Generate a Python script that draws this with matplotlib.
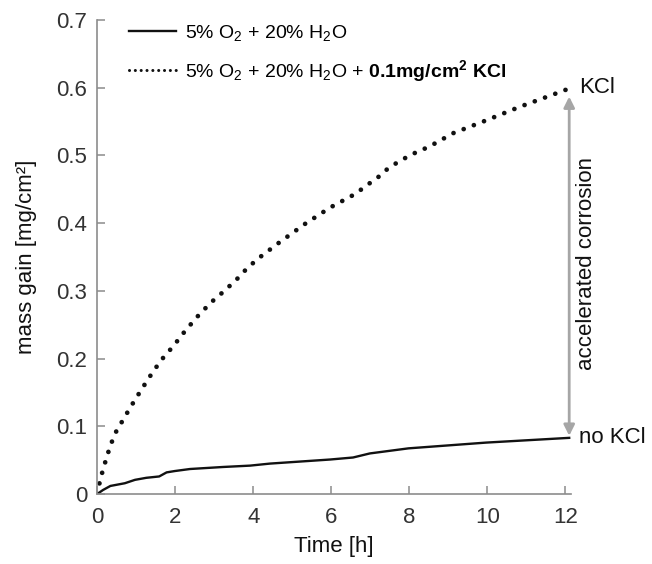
import matplotlib
matplotlib.use('Agg')
import matplotlib.pyplot as plt

plt.rcParams['font.family'] = ['Liberation Sans', 'DejaVu Sans']
plt.rcParams['mathtext.fontset'] = 'custom'
plt.rcParams['mathtext.rm'] = 'Liberation Sans'
plt.rcParams['mathtext.it'] = 'Liberation Sans:italic'
plt.rcParams['mathtext.bf'] = 'Liberation Sans:bold'

# mass gain without KCl (solid)
t_nokcl = [0, 0.15, 0.34, 0.71, 0.97, 1.26, 1.59, 1.78, 1.99, 2.38, 3.23, 3.92,
           4.43, 5.97, 6.56, 6.99, 7.98, 9.97, 12.1]
m_nokcl = [0, 0.006, 0.012, 0.016, 0.021, 0.024, 0.026, 0.032, 0.034, 0.037,
           0.040, 0.042, 0.045, 0.051, 0.054, 0.060, 0.0675, 0.076, 0.083]

# mass gain with 0.1 mg/cm2 KCl (dotted)
t_kcl = [0, 0.085, 0.18, 0.34, 0.50, 0.67, 0.83, 0.99, 1.32, 1.63, 1.96, 2.27,
         2.60, 2.92, 3.24, 3.56, 3.87, 4.20, 4.68, 5.33, 5.97, 6.61, 7.08, 7.25,
         7.42, 7.59, 8.04, 8.51, 9.13, 9.98, 10.84, 11.69, 12.06]
m_kcl = [0, 0.0226, 0.042, 0.072, 0.094, 0.110, 0.126, 0.141, 0.171, 0.197,
         0.219, 0.242, 0.264, 0.283, 0.299, 0.316, 0.335, 0.351, 0.372, 0.399,
         0.423, 0.443, 0.463, 0.470, 0.479, 0.486, 0.501, 0.513, 0.533, 0.552,
         0.572, 0.590, 0.598]

x_ticks = [0, 2, 4, 6, 8, 10, 12]
y_ticks = [0, 0.1, 0.2, 0.3, 0.4, 0.5, 0.6, 0.7]
y_ticklabels = ['0', '0.1', '0.2', '0.3', '0.4', '0.5', '0.6', '0.7']

fig = plt.figure(figsize=(6.52, 5.64), dpi=100)
ax = fig.add_axes([0.149, 0.124, 0.727, 0.8405])

ax.plot(t_nokcl, m_nokcl, color='#111111', lw=1.7,
        label='5% O$_2$ + 20% H$_2$O')
ax.plot(t_kcl, m_kcl, color='#111111', lw=3.4, linestyle=(0, (0.01, 2.3)),
        dash_capstyle='round',
        label='5% O$_2$ + 20% H$_2$O + $\\mathbf{0.1mg/cm^2\\ KCl}$')

# double arrow between the two curves at 12 h
ax.annotate('', xy=(12.1, 0.587), xytext=(12.1, 0.086),
            arrowprops=dict(arrowstyle='<|-|>', color='#a6a6a6', lw=2,
                            mutation_scale=16, shrinkA=0, shrinkB=0))
ax.text(12.35, 0.600, 'KCl', fontsize=16, ha='left', va='center', color='#111111')
ax.text(12.35, 0.084, 'no KCl', fontsize=16, ha='left', va='center', color='#111111')
ax.text(12.28, 0.34, 'accelerated corrosion', fontsize=16, rotation=90,
        ha='left', va='center', color='#111111')

ax.set_xlim(0, 12.15)
ax.set_ylim(0, 0.7)
ax.set_xticks(x_ticks)
ax.set_yticks(y_ticks)
ax.set_yticklabels(y_ticklabels)
for s in ['top', 'right']:
    ax.spines[s].set_visible(False)
for s in ['left', 'bottom']:
    ax.spines[s].set_color('#8c8c8c')
    ax.spines[s].set_linewidth(1.2)
ax.tick_params(direction='in', length=6, width=1.1, color='#8c8c8c',
               labelsize=16, labelcolor='#333333')
ax.tick_params(axis='y', pad=7)
ax.tick_params(axis='x', pad=9)
ax.set_xlabel('Time [h]', fontsize=16, color='#111111', labelpad=6)
ax.set_ylabel('mass gain [mg/cm²]', fontsize=16, color='#111111', labelpad=14)

leg = ax.legend(loc='upper left', bbox_to_anchor=(0.03, 1.03), frameon=False,
                fontsize=14, handlelength=2.4, handletextpad=0.5, labelspacing=0.75)
leg.get_lines()[1].set_linewidth(2.2)
leg.get_lines()[1].set_linestyle((0, (0.01, 1.9)))

fig.savefig('out.png', dpi=100, facecolor='white')
